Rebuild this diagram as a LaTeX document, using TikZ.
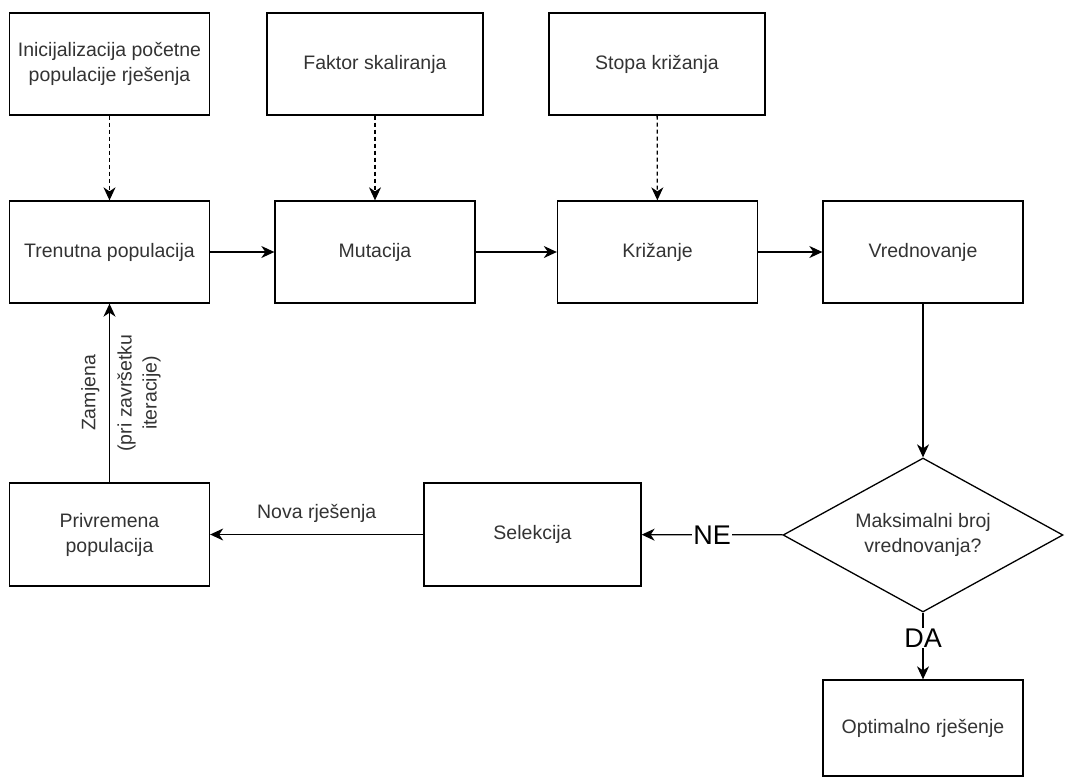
\documentclass[tikz,border=0pt]{standalone}
\usepackage{fontspec}
\setmainfont{Liberation Sans}
\usetikzlibrary{shapes.geometric,arrows.meta}
\definecolor{txtgray}{RGB}{51,51,51}

\begin{document}
\begin{tikzpicture}[x=1pt, y=-1pt,
  box/.style={draw, line width=1.3pt, minimum width=200pt, minimum height=102pt,
    inner sep=0pt, align=center, text=txtgray, font=\fontsize{19.5}{25}\selectfont},
  odluka/.style={diamond, aspect=2, draw, line width=1.3pt, minimum width=280pt, minimum height=154pt,
    inner sep=0pt, align=center, text=txtgray, font=\fontsize{19.5}{25}\selectfont},
  lbl/.style={text=txtgray, align=center, font=\fontsize{19.5}{25}\selectfont},
  veliki/.style={fill=white, inner sep=1pt, font=\fontsize{27}{30}\selectfont},
  tok/.style={line width=1.3pt, -{Stealth[length=13pt, width=12pt, inset=4pt]}},
  isprek/.style={tok, dash pattern=on 4pt off 3pt}]
  \useasboundingbox (0,0) rectangle (1076,780);

  \node[box] (init) at (109.5,64) {Inicijalizacija početne\\populacije rješenja};
  \node[box, minimum width=216pt] (faktor) at (375,64) {Faktor skaliranja};
  \node[box, minimum width=216pt] (stopa) at (657,64) {Stopa križanja};

  \node[box] (trenutna) at (109.5,252) {Trenutna populacija};
  \node[box] (mutacija) at (375,252) {Mutacija};
  \node[box] (krizanje) at (657.5,252) {Križanje};
  \node[box] (vrednovanje) at (923,252) {Vrednovanje};

  \node[odluka] (maks) at (923,535) {Maksimalni broj\\vrednovanja?};
  \node[box, minimum width=217pt, minimum height=103pt] (selekcija) at (532.5,534.5) {Selekcija};
  \node[box, minimum height=103pt] (privremena) at (109.5,534.5) {Privremena\\populacija};
  \node[box, minimum height=96pt] (optimalno) at (923,728) {Optimalno rješenje};

  \path[isprek]
  (init) edge (trenutna)
  (faktor) edge (mutacija)
  (stopa) edge (krizanje);
  \path[tok]
  (trenutna) edge (mutacija)
  (mutacija) edge (krizanje)
  (krizanje) edge (vrednovanje)
  (vrednovanje) edge (maks)
  (maks) edge node[veliki] {NE} (selekcija)
  (selekcija) edge node[lbl, above=8pt] {Nova rješenja} (privremena)
  (privremena) edge node[lbl, rotate=90, above=6pt] {Zamjena}
    node[lbl, rotate=90, below=4pt] {(pri završetku\\iteracije)} (trenutna)
  (maks) edge node[veliki, pos=0.38] {DA} (optimalno);
\end{tikzpicture}
\end{document}
